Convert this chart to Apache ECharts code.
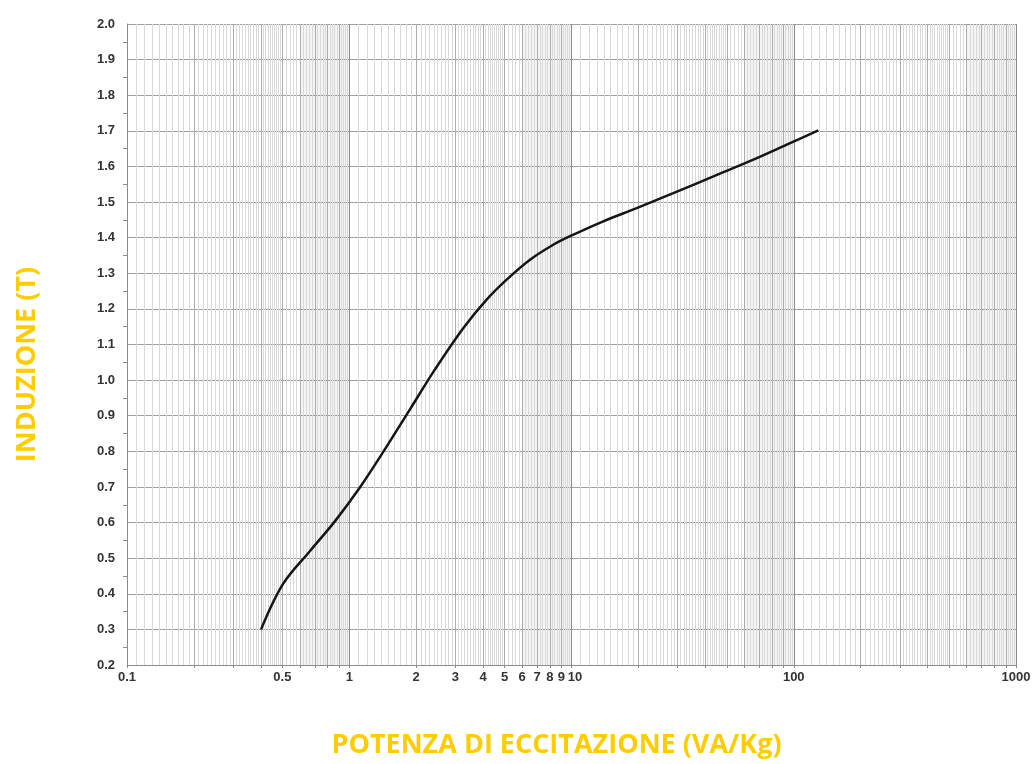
<!DOCTYPE html>
<html>
<head>
<meta charset="utf-8">
<title>Curva di eccitazione</title>
<script src="https://cdn.jsdelivr.net/npm/echarts@6/dist/echarts.min.js"></script>
<style>
  html, body { margin: 0; padding: 0; background: #fff; }
  #chart { width: 1034px; height: 764px; }
</style>
</head>
<body>
<div id="chart"></div>
<script>
// valori: potenza di eccitazione (VA/Kg) -> induzione (T)
const potenza = [0.401, 0.503, 0.666, 0.863, 1.118, 1.448, 1.876, 2.431, 3.25, 4.152, 5.108, 6.507, 8.28, 9.85, 13.9, 19.65, 28.7, 43.5, 65.8, 93, 129]
const induzione = [0.30, 0.427, 0.520, 0.604, 0.699, 0.806, 0.918, 1.030, 1.145, 1.226, 1.282, 1.338, 1.380, 1.404, 1.446, 1.483, 1.525, 1.572, 1.619, 1.661, 1.701]
const etichetteX = [0.1, 0.5, 1, 2, 3, 4, 5, 6, 7, 8, 9, 10, 100, 1000]
const decadi = [0.1, 1, 10, 100, 1000]
// bande grigie della carta scansionata
const bande = [[0.6, 1], [6, 10], [60, 100], [600, 1000]]

// righe della carta logaritmica
const righeIntere = []
const righeFini = []
decadi.slice(0, -1).forEach(d => {
  for (let m = 2; m <= 9; m++) righeIntere.push(d * m)
  for (let k = 11; k < 50; k++) if (k % 10) righeFini.push(d * k / 10)
  for (let k = 52; k < 100; k += 2) if (k % 10) righeFini.push(d * k / 10)
})

const righe = (valori, colore, larghezza) => ({
  silent: true,
  symbol: 'none',
  label: { show: false },
  lineStyle: { color: colore, width: larghezza, type: 'solid' },
  data: valori.map(v => ({ xAxis: v }))
})

const titolo = {
  color: '#FFCC00',
  fontSize: 27,
  fontWeight: 'bold',
  fontFamily: 'Open Sans, sans-serif'
}

const chart = echarts.init(document.getElementById('chart'))

chart.setOption({
  animation: false,
  grid: { left: 127, right: 18, top: 24, bottom: 98 },
  xAxis: {
    type: 'log',
    logBase: 10,
    min: 0.1,
    max: 1000,
    name: 'POTENZA DI ECCITAZIONE (VA/Kg)',
    nameLocation: 'middle',
    nameGap: 67,
    nameTextStyle: Object.assign({ padding: [0, 30, 0, 0] }, titolo),
    axisLine: { show: true, lineStyle: { color: '#8c8c8c', width: 1 } },
    axisTick: { show: true, customValues: righeIntere.concat(decadi), length: 3, lineStyle: { color: '#8c8c8c' } },
    axisLabel: {
      customValues: etichetteX,
      formatter: v => (v === 10 ? '{d|10}' : String(v)),
      rich: { d: { padding: [0, 0, 0, 7] } },
      color: '#333',
      fontSize: 13,
      fontWeight: 'bold',
      fontFamily: 'Liberation Sans, sans-serif',
      margin: 6
    },
    splitLine: { show: false },
    minorTick: { show: false },
    minorSplitLine: { show: false }
  },
  yAxis: {
    type: 'value',
    min: 0.2,
    max: 2.0,
    interval: 0.1,
    name: 'INDUZIONE (T)',
    nameLocation: 'middle',
    nameGap: 86,
    nameTextStyle: Object.assign({ padding: [0, 40, 0, 0] }, titolo),
    axisLine: { show: true, lineStyle: { color: '#8c8c8c', width: 1 } },
    axisTick: { show: false },
    minorTick: { show: true, splitNumber: 2, length: 4, lineStyle: { color: '#8c8c8c' } },
    axisLabel: {
      formatter: v => v.toFixed(1),
      color: '#333',
      fontSize: 13,
      fontWeight: 'bold',
      fontFamily: 'Liberation Sans, sans-serif',
      margin: 12
    },
    splitLine: { show: true, lineStyle: { color: '#a0a0a0', width: 1 } }
  },
  series: [
    {
      name: 'bande',
      type: 'line',
      data: [],
      z: 1,
      markArea: {
        silent: true,
        itemStyle: { color: 'rgba(0,0,0,0.045)' },
        data: bande.map(b => [{ xAxis: b[0] }, { xAxis: b[1] }])
      }
    },
    { name: 'fini', type: 'line', data: [], z: 2, markLine: righe(righeFini, '#d9d9d9', 1) },
    { name: 'intere', type: 'line', data: [], z: 3, markLine: righe(righeIntere, '#adadad', 1) },
    { name: 'decadi', type: 'line', data: [], z: 3, markLine: righe(decadi, '#8c8c8c', 1) },
    {
      name: 'induzione',
      type: 'line',
      z: 10,
      data: potenza.map((p, i) => [p, induzione[i]]),
      smooth: 0.35,
      showSymbol: false,
      lineStyle: { color: '#151515', width: 2.5 }
    }
  ]
})
</script>
</body>
</html>
